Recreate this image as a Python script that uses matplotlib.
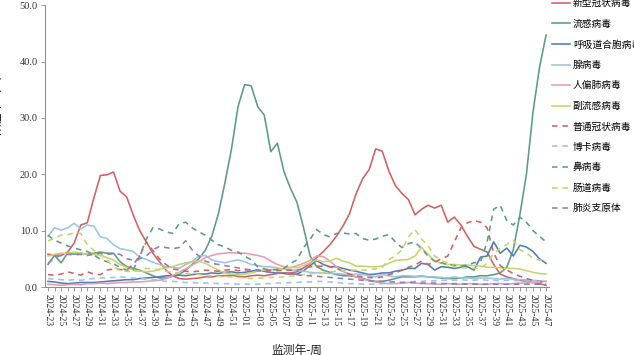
import matplotlib
matplotlib.use("Agg")
import matplotlib.pyplot as plt
import numpy as np

plt.rcParams['font.family'] = ['Liberation Serif', 'Noto Sans CJK SC']

# %%
# weeks: 2024-23 .. 2024-52, 2025-01 .. 2025-47
weeks = ['2024-%02d' % w for w in range(23, 53)] + ['2025-%02d' % w for w in range(1, 48)]

names = ['新型冠状病毒', '流感病毒', '呼吸道合胞病毒', '腺病毒', '人偏肺病毒', '副流感病毒',
         '普通冠状病毒', '博卡病毒', '鼻病毒', '肠道病毒', '肺炎支原体']

sars_cov2 = [5.8, 5.7, 5.6, 6.2, 7.8, 11.0, 11.4, 15.8, 19.8, 19.9, 20.4, 17.0, 16.0, 12.8, 10.0, 8.0,
             6.0, 4.5, 3.0, 2.0, 1.5, 1.4, 1.5, 1.6, 1.8, 1.8, 2.0, 2.0, 2.1, 1.9, 1.8, 2.0, 2.1, 2.0,
             2.2, 2.4, 2.5, 2.5, 2.7, 3.4, 4.2, 5.2, 6.3, 7.5, 9.0, 10.8, 13.0, 16.5, 19.2, 20.8, 24.5,
             24.1, 20.6, 18.0, 16.6, 15.5, 12.8, 13.8, 14.5, 14.0, 14.5, 11.5, 12.4, 11.0, 9.0, 7.2,
             6.7, 6.2, 4.0, 2.3, 1.8, 1.5, 1.2, 1.0, 0.8, 0.6, 0.3]
influenza = [4.0, 5.6, 4.3, 6.0, 5.8, 6.0, 5.8, 6.0, 6.2, 6.0, 6.0, 4.5, 3.6, 3.3, 3.0, 2.5, 2.0, 1.6,
             1.6, 1.9, 2.2, 3.0, 4.0, 5.0, 6.5, 9.0, 13.0, 18.5, 24.5, 32.0, 35.9, 35.7, 32.0, 30.5,
             24.0, 25.5, 20.5, 17.5, 15.0, 10.5, 5.5, 3.6, 3.0, 2.6, 2.2, 2.0, 2.0, 1.8, 1.5, 1.2, 1.0,
             1.0, 1.2, 1.5, 1.8, 1.8, 1.8, 1.9, 1.8, 1.7, 1.6, 1.5, 1.5, 1.6, 1.8, 1.8, 2.0, 2.0, 2.2,
             2.5, 3.5, 6.6, 12.8, 20.0, 31.0, 39.0, 44.7]
rsv = [1.0, 0.9, 0.7, 0.6, 0.7, 0.8, 0.8, 0.8, 0.9, 1.0, 1.1, 1.2, 1.3, 1.3, 1.5, 1.6, 1.7, 1.8,
       2.0, 2.0, 2.1, 2.0, 2.2, 2.3, 2.3, 2.5, 2.4, 2.6, 2.7, 2.5, 2.6, 2.8, 3.0, 2.8, 2.6, 2.5,
       2.4, 2.3, 2.3, 2.9, 3.8, 4.7, 4.0, 3.6, 3.6, 3.3, 3.0, 2.8, 2.5, 2.2, 2.3, 2.5, 2.5, 2.8,
       3.0, 3.3, 3.3, 4.2, 4.0, 3.0, 3.6, 3.5, 3.3, 3.5, 3.6, 3.0, 5.3, 5.5, 8.0, 6.0, 6.9, 5.5,
       7.4, 7.1, 6.3, 5.0, 4.2]
adeno = [9.0, 10.5, 10.1, 10.5, 11.3, 10.3, 11.0, 10.8, 8.9, 8.6, 7.5, 6.8, 6.6, 6.3, 5.3, 4.9,
         4.4, 4.0, 3.6, 3.5, 3.3, 4.0, 4.5, 5.5, 5.6, 4.8, 4.5, 4.3, 4.6, 4.8, 4.5, 4.0, 3.8, 3.6,
         3.6, 3.4, 3.2, 3.0, 3.0, 2.8, 2.6, 2.5, 2.5, 2.4, 2.4, 2.3, 2.2, 2.3, 2.2, 2.0, 1.8, 2.2,
         2.0, 1.8, 2.0, 2.0, 1.9, 2.0, 1.8, 1.8, 1.7, 1.6, 1.8, 1.6, 1.6, 1.5, 1.6, 1.6, 1.5, 1.4,
         1.5, 1.4, 1.3, 1.3, 1.2, 1.1, 1.0]
hmpv = [0.5, 0.4, 0.3, 0.4, 0.5, 0.4, 0.6, 0.6, 0.7, 0.6, 0.7, 0.8, 0.8, 0.9, 0.9, 1.0, 1.1, 1.2,
        1.5, 2.0, 2.6, 3.2, 3.9, 4.5, 5.2, 5.6, 5.9, 6.0, 6.1, 6.0, 6.0, 5.8, 5.6, 5.3, 4.6, 4.0,
        3.6, 3.4, 3.8, 4.2, 4.7, 5.5, 5.4, 4.6, 3.6, 2.8, 2.2, 1.8, 1.4, 1.1, 0.9, 0.7, 0.6, 0.6,
        0.7, 0.8, 0.7, 0.6, 0.6, 0.5, 0.5, 0.6, 0.5, 0.5, 0.6, 0.6, 0.5, 0.5, 0.6, 0.6, 0.5, 0.6,
        0.7, 0.7, 0.8, 0.9, 1.0]
parainf = [5.5, 5.8, 6.0, 6.0, 6.2, 6.0, 5.8, 5.8, 5.6, 5.2, 4.8, 4.0, 3.5, 3.0, 2.8, 2.7, 2.8,
           3.2, 3.4, 3.6, 4.0, 4.3, 4.5, 4.6, 4.2, 3.6, 3.0, 2.5, 2.3, 2.2, 2.3, 2.5, 2.8, 3.0,
           3.1, 3.2, 3.3, 3.5, 3.4, 3.8, 4.3, 4.8, 4.5, 4.6, 5.1, 4.6, 4.3, 3.7, 3.7, 3.6, 3.6,
           3.7, 4.2, 4.7, 4.8, 4.9, 5.5, 7.0, 5.8, 4.6, 4.2, 4.0, 4.0, 3.9, 3.9, 3.8, 3.7, 3.5,
           3.5, 3.4, 3.3, 3.3, 3.2, 2.9, 2.6, 2.4, 2.3]
hcov = [2.2, 2.1, 2.3, 2.7, 2.4, 2.1, 2.7, 2.3, 2.2, 3.0, 3.2, 3.1, 3.0, 4.0, 5.5, 8.0, 6.5, 5.0,
        4.0, 3.2, 3.0, 2.8, 2.7, 2.8, 3.0, 2.9, 2.8, 3.0, 3.1, 2.9, 3.0, 3.1, 3.0, 2.9, 3.0, 2.9,
        3.0, 3.0, 3.0, 3.3, 3.6, 3.7, 3.7, 3.6, 3.3, 2.8, 2.3, 2.0, 1.8, 1.7, 1.6, 1.8, 2.2, 2.5,
        3.0, 3.5, 3.9, 4.6, 4.0, 4.4, 5.0, 5.5, 8.0, 10.5, 11.4, 11.8, 11.5, 10.5, 6.0, 3.8, 3.0,
        2.4, 1.9, 1.5, 1.2, 1.0, 0.7]
boca = [1.5, 1.4, 1.3, 1.2, 1.3, 1.2, 1.4, 1.5, 1.6, 1.6, 1.7, 1.8, 1.7, 1.6, 1.5, 1.4, 1.3, 1.2,
        1.0, 1.0, 0.9, 0.8, 0.8, 0.7, 0.7, 0.7, 0.6, 0.6, 0.6, 0.5, 0.5, 0.5, 0.5, 0.6, 0.6, 0.7,
        0.7, 0.8, 0.8, 0.9, 0.9, 1.0, 1.0, 0.9, 0.8, 0.7, 0.6, 0.6, 0.5, 0.5, 0.5, 0.6, 0.6, 0.7,
        0.8, 0.9, 1.0, 1.0, 1.1, 1.1, 1.2, 1.2, 1.2, 1.3, 1.2, 1.2, 1.3, 1.2, 1.2, 1.1, 1.2, 1.2,
        1.1, 1.1, 1.0, 1.0, 1.0]
rhino = [9.2, 8.3, 7.8, 7.3, 6.9, 6.6, 6.3, 5.7, 4.9, 4.5, 4.1, 3.5, 3.0, 3.0, 5.5, 8.5, 10.5,
         10.3, 9.8, 9.5, 11.2, 11.5, 10.5, 9.8, 9.2, 8.3, 7.5, 7.1, 6.5, 6.2, 5.5, 4.8, 3.6, 3.2,
         3.0, 3.1, 3.3, 4.2, 4.8, 7.0, 8.5, 10.2, 9.3, 8.9, 9.5, 9.6, 9.4, 9.5, 8.6, 8.3, 8.5, 9.0,
         9.3, 8.0, 7.0, 7.7, 8.0, 6.8, 5.5, 4.6, 4.3, 4.0, 3.8, 3.7, 3.9, 4.3, 4.5, 8.0, 13.8, 14.5,
         11.8, 11.0, 12.4, 11.5, 10.0, 9.0, 8.0]
entero = [8.2, 8.6, 9.2, 9.3, 9.6, 9.5, 7.5, 6.5, 6.0, 4.8, 3.6, 3.0, 2.8, 2.7, 3.0, 3.3, 3.2, 3.0,
          2.8, 2.6, 2.5, 2.4, 2.3, 2.2, 2.0, 2.0, 1.9, 1.8, 1.8, 1.7, 1.6, 1.5, 1.6, 1.6, 1.7, 1.8,
          1.8, 1.9, 2.0, 2.2, 2.3, 2.5, 2.6, 2.7, 2.8, 2.9, 3.0, 3.0, 3.0, 3.1, 3.2, 3.5, 4.9, 5.5,
          6.6, 8.9, 10.2, 8.5, 7.3, 5.5, 4.8, 4.2, 3.6, 3.4, 3.4, 3.3, 3.4, 4.2, 5.9, 6.9, 7.5, 8.3,
          6.6, 6.0, 5.1, 4.8, 4.6]
mycoplasma = [4.2, 5.2, 5.6, 5.8, 5.7, 5.8, 5.6, 5.8, 6.0, 5.8, 5.9, 5.8, 5.0, 4.8, 5.0, 5.5, 6.6,
              7.2, 7.0, 6.8, 7.0, 8.2, 6.6, 5.5, 4.6, 4.2, 4.0, 3.8, 3.6, 3.4, 3.2, 3.0, 2.9, 2.8,
              2.6, 2.5, 2.4, 2.3, 2.2, 2.0, 2.0, 1.9, 1.8, 1.7, 1.6, 1.5, 1.4, 1.3, 1.2, 1.1, 1.0,
              1.0, 0.9, 0.9, 0.8, 0.8, 0.8, 0.7, 0.7, 0.7, 0.6, 0.6, 0.6, 0.6, 0.5, 0.5, 0.5, 0.5,
              0.5, 0.5, 0.5, 0.5, 0.5, 0.5, 0.5, 0.5, 0.5]

series = [sars_cov2, influenza, rsv, adeno, hmpv, parainf, hcov, boca, rhino, entero, mycoplasma]

# %%
red = '#d4605f'
green = '#5a9c84'
blue = '#4a7dba'
lblue = '#9dc3e6'
pink = '#e99cae'
ygreen = '#c8d36c'
purple = '#8a7ec6'
colors = [red, green, blue, lblue, pink, ygreen, red, lblue, green, ygreen, purple]
styles = ['-'] * 6 + [(0, (3.5, 3))] * 5

fig = plt.figure(figsize=(6.34, 3.55), dpi=100)
ax = fig.add_axes([0.0705, 0.1915, 0.796, 0.794])
x = np.arange(len(weeks))
for vals, name, c, ls in zip(series, names, colors, styles):
    ax.plot(x, vals, color=c, linestyle=ls, linewidth=1.15, label=name)

ax.set_xlim(-0.5, len(weeks) - 0.5)
ax.set_ylim(0, 50)
ax.set_yticks(np.arange(0, 51, 10))
ax.set_yticklabels(['%.1f' % v for v in np.arange(0, 51, 10)], fontsize=7.5, color='#333333')
ax.set_xticks(x[::2])
ax.set_xticklabels(weeks[::2], rotation=270, fontsize=7, color='#333333')
ax.set_xticks(x, minor=True)
ax.tick_params(axis='both', which='both', direction='out', length=3, width=0.6, color='#888888', pad=2)
for s in ['top', 'right']:
    ax.spines[s].set_visible(False)
for s in ['left', 'bottom']:
    ax.spines[s].set_color('#888888')
    ax.spines[s].set_linewidth(0.7)

ax.set_xlabel('监测年-周', fontsize=8.5, labelpad=13, color='#222222')
fig.text(0.004, 1 - 100 / 355, '阳性率（%）', rotation=90, ha='right', va='center', fontsize=8.5)

ax.legend(loc='upper left', bbox_to_anchor=(552 / 634, 1.003), bbox_transform=fig.transFigure,
          frameon=False, fontsize=7, handlelength=1.8, handletextpad=0.35, labelspacing=1.15,
          borderpad=0, borderaxespad=0)

fig.savefig('out.png', dpi=100)
